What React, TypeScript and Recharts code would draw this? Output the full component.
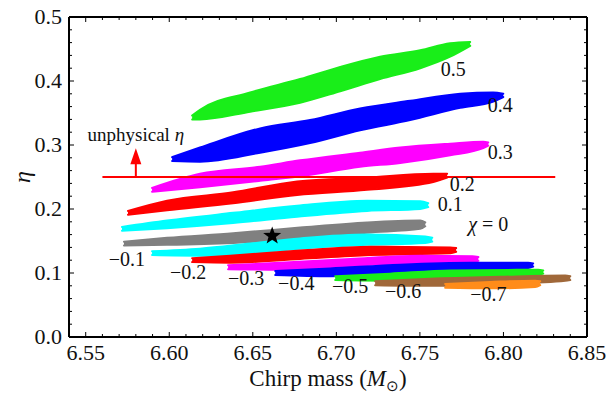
import { ComposedChart, Area, XAxis, YAxis, Scatter, ReferenceLine } from 'recharts'

const FONT = '"Liberation Serif", "Times New Roman", serif'

// axis ticks
const xMajor = [6.55, 6.6, 6.65, 6.7, 6.75, 6.8, 6.85]
const xTicks = [
  6.55, 6.56, 6.57, 6.58, 6.59, 6.6, 6.61, 6.62, 6.63, 6.64, 6.65, 6.66, 6.67, 6.68, 6.69, 6.7,
  6.71, 6.72, 6.73, 6.74, 6.75, 6.76, 6.77, 6.78, 6.79, 6.8, 6.81, 6.82, 6.83, 6.84, 6.85,
]
const yMajor = [0, 0.1, 0.2, 0.3, 0.4, 0.5]
const yTicks = [
  0, 0.02, 0.04, 0.06, 0.08, 0.1, 0.12, 0.14, 0.16, 0.18, 0.2, 0.22, 0.24, 0.26, 0.28, 0.3,
  0.32, 0.34, 0.36, 0.38, 0.4, 0.42, 0.44, 0.46, 0.48, 0.5,
]

// each band: [chirp mass, eta low, eta high]
const band05: [number, number, number][] = [
  [6.6137, 0.340, 0.346], [6.6184, 0.340, 0.355], [6.6484, 0.352, 0.382], [6.6783, 0.366, 0.403],
  [6.7023, 0.384, 0.422], [6.7262, 0.403, 0.438], [6.7502, 0.420, 0.448], [6.7681, 0.438, 0.459],
  [6.7801, 0.455, 0.461],
]
const band04: [number, number, number][] = [
  [6.6017, 0.275, 0.281], [6.6184, 0.274, 0.296], [6.6544, 0.288, 0.326], [6.6843, 0.303, 0.339],
  [6.7142, 0.323, 0.357], [6.7442, 0.339, 0.369], [6.7741, 0.358, 0.380], [6.7939, 0.368, 0.382],
  [6.7999, 0.375, 0.380],
]
const band03: [number, number, number][] = [
  [6.5897, 0.227, 0.233], [6.6184, 0.234, 0.255], [6.6544, 0.244, 0.266], [6.6783, 0.251, 0.276],
  [6.7142, 0.266, 0.288], [6.7382, 0.272, 0.296], [6.7681, 0.284, 0.302], [6.7879, 0.295, 0.305],
  [6.7909, 0.299, 0.304],
]
const band02: [number, number, number][] = [
  [6.5753, 0.191, 0.197], [6.5987, 0.198, 0.213], [6.6382, 0.209, 0.226], [6.6765, 0.222, 0.243],
  [6.7184, 0.230, 0.249], [6.758, 0.242, 0.255], [6.7663, 0.249, 0.255],
]
const band01: [number, number, number][] = [
  [6.5717, 0.166, 0.172], [6.5987, 0.170, 0.182], [6.6382, 0.178, 0.194], [6.6765, 0.188, 0.205],
  [6.7184, 0.197, 0.213], [6.7502, 0.200, 0.212], [6.755, 0.203, 0.209],
]
const band00: [number, number, number][] = [
  [6.5729, 0.143, 0.149], [6.5987, 0.144, 0.155], [6.6382, 0.147, 0.162], [6.6783, 0.153, 0.171],
  [6.7184, 0.163, 0.179], [6.7502, 0.169, 0.182], [6.7532, 0.173, 0.179],
]
const bandM01: [number, number, number][] = [
  [6.5897, 0.128, 0.134], [6.6184, 0.127, 0.138], [6.6484, 0.131, 0.146], [6.6783, 0.138, 0.154],
  [6.7184, 0.144, 0.160], [6.7532, 0.147, 0.157], [6.7574, 0.149, 0.155],
]
const bandM02: [number, number, number][] = [
  [6.6137, 0.117, 0.123], [6.6364, 0.116, 0.127], [6.6783, 0.122, 0.135], [6.7202, 0.128, 0.141],
  [6.7682, 0.131, 0.140], [6.7717, 0.133, 0.139],
]
const bandM03: [number, number, number][] = [
  [6.6352, 0.106, 0.112], [6.6663, 0.105, 0.116], [6.7083, 0.111, 0.122], [6.7502, 0.116, 0.127],
  [6.7814, 0.117, 0.126], [6.785, 0.119, 0.125],
]
const bandM04: [number, number, number][] = [
  [6.6634, 0.097, 0.103], [6.6963, 0.095, 0.107], [6.7382, 0.100, 0.113], [6.7801, 0.105, 0.116],
  [6.8148, 0.108, 0.116], [6.8178, 0.110, 0.115],
]
const bandM05: [number, number, number][] = [
  [6.6993, 0.089, 0.095], [6.7322, 0.088, 0.099], [6.7681, 0.092, 0.104], [6.8208, 0.097, 0.105],
  [6.8238, 0.099, 0.104],
]
const bandM06: [number, number, number][] = [
  [6.7232, 0.081, 0.087], [6.7562, 0.080, 0.091], [6.7981, 0.083, 0.094], [6.837, 0.088, 0.096],
  [6.84, 0.089, 0.095],
]
const bandM07: [number, number, number][] = [
  [6.7651, 0.077, 0.083], [6.7921, 0.076, 0.086], [6.819, 0.078, 0.088], [6.822, 0.081, 0.087],
]

const bands = [
  { id: '0.5', color: '#19ee19', pts: band05 },
  { id: '0.4', color: '#0000ff', pts: band04 },
  { id: '0.3', color: '#ff00ff', pts: band03 },
  { id: '0.2', color: '#ff0000', pts: band02 },
  { id: '0.1', color: '#00ffff', pts: band01 },
  { id: '0', color: '#808080', pts: band00 },
  { id: '-0.1', color: '#00ffff', pts: bandM01 },
  { id: '-0.2', color: '#ff0000', pts: bandM02 },
  { id: '-0.3', color: '#ff00ff', pts: bandM03 },
  { id: '-0.4', color: '#0000ff', pts: bandM04 },
  { id: '-0.5', color: '#19ee19', pts: bandM05 },
  { id: '-0.6', color: '#a0683a', pts: bandM06 },
  { id: '-0.7', color: '#ff8c1a', pts: bandM07 },
]

const chiLabels = [
  { x: 6.7699, y: 0.417, text: '0.5' },
  { x: 6.7981, y: 0.361, text: '0.4' },
  { x: 6.7981, y: 0.2875, text: '0.3' },
  { x: 6.7754, y: 0.2375, text: '0.2' },
  { x: 6.7682, y: 0.206, text: '0.1' },
  { x: 6.7909, y: 0.175, text: 'χ = 0' },
  { x: 6.5747, y: 0.12, text: '−0.1' },
  { x: 6.6113, y: 0.1, text: '−0.2' },
  { x: 6.646, y: 0.0906, text: '−0.3' },
  { x: 6.676, y: 0.083, text: '−0.4' },
  { x: 6.7083, y: 0.078, text: '−0.5' },
  { x: 6.74, y: 0.07, text: '−0.6' },
  { x: 6.791, y: 0.0656, text: '−0.7' },
]

const injected = [{ x: 6.6616, y: 0.158 }]
const etaLimit = 0.25
const limitRange: [number, number] = [6.56, 6.831]
const arrowX = 6.58
const arrowTip = [{ x: arrowX, y: 0.295 }]
const unphysicalLabel = [{ x: 6.58, y: 0.316, text: 'unphysical ' }]

const isIn = (v: number, list: number[]) => list.some((m) => Math.abs(m - v) < 1e-6)

const XTick = (side: 'bottom' | 'top') => (props: any) => {
  const { x, y, payload } = props
  const major = isIn(payload.value, xMajor)
  const len = major ? 5 : 3
  return (
    <g>
      <line x1={x} y1={y} x2={x} y2={side === 'bottom' ? y - len : y + len} stroke="#000" strokeWidth={1} />
      {side === 'bottom' && major && (
        <text x={x} y={y + 23} textAnchor="middle" fontSize={22} fontFamily={FONT} fill="#111">
          {payload.value.toFixed(2)}
        </text>
      )}
    </g>
  )
}

const YTick = (side: 'left' | 'right') => (props: any) => {
  const { x, y, payload } = props
  const major = isIn(payload.value, yMajor)
  const len = major ? 5 : 3
  return (
    <g>
      <line x1={x} y1={y} x2={side === 'left' ? x + len : x - len} y2={y} stroke="#000" strokeWidth={1} />
      {side === 'left' && major && (
        <text x={x - 7} y={y + 7} textAnchor="end" fontSize={22} fontFamily={FONT} fill="#111">
          {payload.value.toFixed(1)}
        </text>
      )}
    </g>
  )
}

const Star = (props: any) => {
  const { cx, cy } = props
  const pts: string[] = []
  for (let i = 0; i < 10; i++) {
    const r = i % 2 === 0 ? 9.5 : 3.9
    const a = -Math.PI / 2 + (i * Math.PI) / 5
    pts.push(`${cx + r * Math.cos(a)},${cy + r * Math.sin(a)}`)
  }
  return <polygon points={pts.join(' ')} fill="#000" />
}

const ArrowHead = (props: any) => {
  const { cx, cy } = props
  return <polygon points={`${cx},${cy} ${cx - 5.5},${cy + 16} ${cx + 5.5},${cy + 16}`} fill="#ff0000" />
}

const ChiLabel = (props: any) => {
  const { cx, cy, payload } = props
  const t: string = payload.text
  return (
    <text x={cx} y={cy + 6} textAnchor="middle" fontSize={20} fontFamily={FONT} fill="#111">
      {t.startsWith('χ') ? (
        <>
          <tspan fontStyle="italic">χ</tspan>
          {t.slice(1)}
        </>
      ) : (
        t
      )}
    </text>
  )
}

const UnphysLabel = (props: any) => {
  const { cx, cy, payload } = props
  return (
    <text x={cx} y={cy + 6} textAnchor="middle" fontSize={19} fontFamily={FONT} fill="#111">
      {payload.text}
      <tspan fontStyle="italic">η</tspan>
    </text>
  )
}

const axisLine = { stroke: '#000', strokeWidth: 2 }

export default function App() {
  return (
    <div style={{ position: 'absolute', left: 0, top: 0, width: 606, height: 399, background: '#fff' }}>
      <ComposedChart width={606} height={399} margin={{ top: 16, right: 18, bottom: 0, left: 0 }}>
        <XAxis
          type="number"
          dataKey="x"
          domain={[6.54, 6.85]}
          ticks={xTicks}
          interval={0}
          tickSize={0}
          tickMargin={0}
          tickLine={false}
          axisLine={axisLine}
          tick={XTick('bottom')}
          height={62}
          allowDataOverflow
          label={{
            content: () => (
              <text x={328} y={386} textAnchor="middle" fontSize={23} fontFamily={FONT} fill="#111">
                Chirp mass (<tspan fontStyle="italic">M</tspan>
                <tspan fontSize={15} dy={5}>⊙</tspan>
                <tspan dy={-5}>)</tspan>
              </text>
            ),
          }}
        />
        <XAxis
          xAxisId="top"
          orientation="top"
          type="number"
          dataKey="x"
          domain={[6.54, 6.85]}
          ticks={xTicks}
          interval={0}
          tickSize={0}
          tickMargin={0}
          tickLine={false}
          axisLine={axisLine}
          tick={XTick('top')}
          height={1}
          allowDataOverflow
        />
        <YAxis
          type="number"
          domain={[0, 0.5]}
          ticks={yTicks}
          interval={0}
          tickSize={0}
          tickMargin={0}
          tickLine={false}
          axisLine={axisLine}
          tick={YTick('left')}
          width={69}
          allowDataOverflow
          label={{
            content: () => (
              <text
                x={30}
                y={177}
                transform="rotate(-90 30 177)"
                textAnchor="middle"
                fontSize={24}
                fontStyle="italic"
                fontFamily={FONT}
                fill="#111"
              >
                η
              </text>
            ),
          }}
        />
        <YAxis
          yAxisId="right"
          orientation="right"
          type="number"
          domain={[0, 0.5]}
          ticks={yTicks}
          interval={0}
          tickSize={0}
          tickMargin={0}
          tickLine={false}
          axisLine={axisLine}
          tick={YTick('right')}
          width={1}
          allowDataOverflow
        />
        {bands.map((b) => (
          <Area
            key={b.id}
            data={b.pts.map(([x, lo, hi]) => ({ x, r: [lo, hi] }))}
            dataKey="r"
            type="monotone"
            fill={b.color}
            fillOpacity={1}
            stroke={b.color}
            strokeWidth={2}
            strokeLinejoin="round"
            strokeLinecap="round"
            dot={false}
            activeDot={false}
            isAnimationActive={false}
          />
        ))}
        <ReferenceLine
          segment={[
            { x: limitRange[0], y: etaLimit },
            { x: limitRange[1], y: etaLimit },
          ]}
          stroke="#ff0000"
          strokeWidth={2}
        />
        <ReferenceLine
          segment={[
            { x: arrowX, y: etaLimit },
            { x: arrowX, y: 0.272 },
          ]}
          stroke="#ff0000"
          strokeWidth={2}
        />
        <Scatter data={arrowTip} dataKey="y" shape={ArrowHead} isAnimationActive={false} />
        <Scatter data={injected} dataKey="y" shape={Star} isAnimationActive={false} />
        <Scatter data={chiLabels} dataKey="y" shape={ChiLabel} isAnimationActive={false} />
        <Scatter data={unphysicalLabel} dataKey="y" shape={UnphysLabel} isAnimationActive={false} />
      </ComposedChart>
    </div>
  )
}
